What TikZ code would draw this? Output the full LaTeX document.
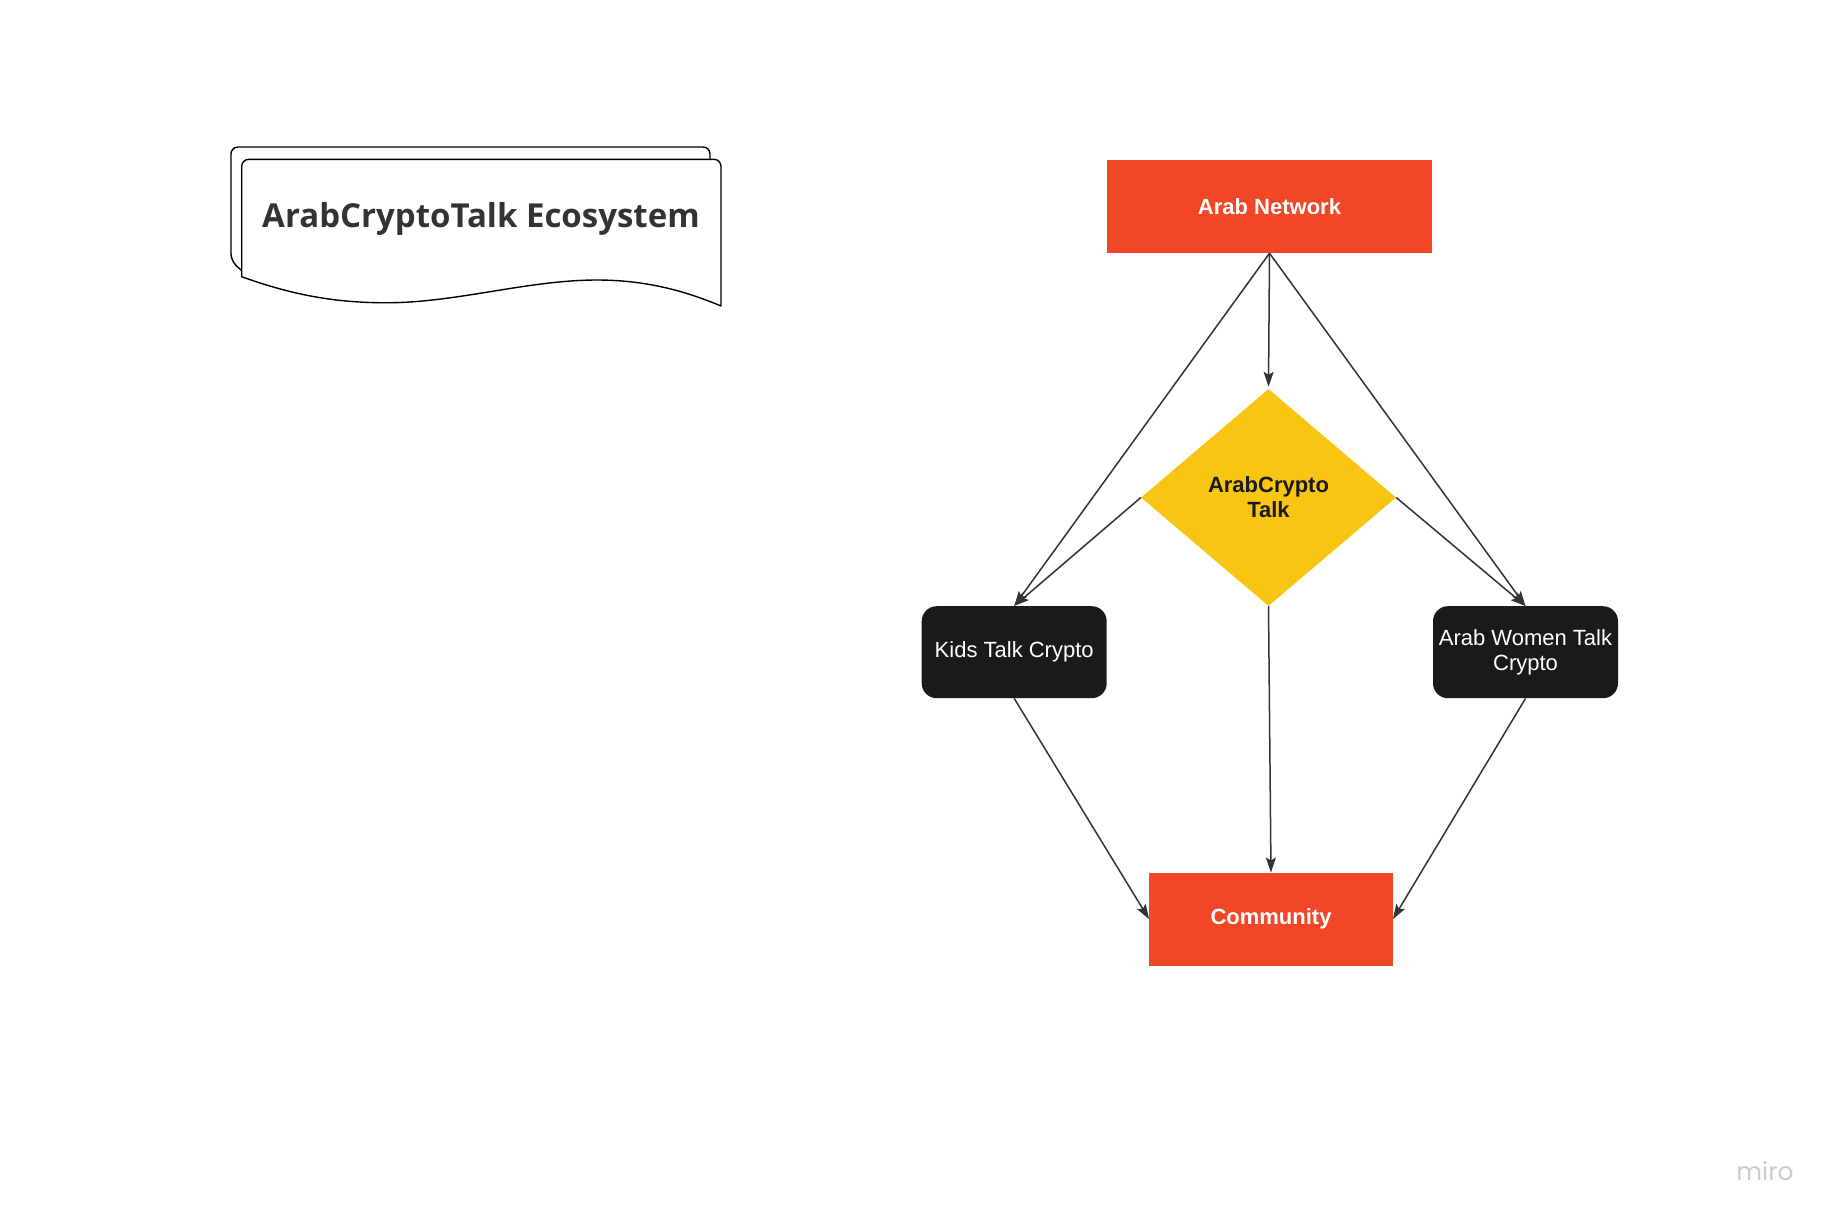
\documentclass[tikz,border=0pt]{standalone}
\usepackage{fontspec}
\setmainfont{Liberation Sans}
\newfontfamily\opensans{Open Sans}
\newfontfamily\poppins{Poppins}
\usetikzlibrary{shapes.geometric,arrows.meta}
\definecolor{mred}{HTML}{F24726}
\definecolor{myellow}{HTML}{F8C612}
\definecolor{mblack}{HTML}{1A1A1A}
\definecolor{edgec}{HTML}{333333}
\definecolor{titlec}{HTML}{333333}
\definecolor{wm}{HTML}{C9CAD6}
\begin{document}
\begin{tikzpicture}[x=1pt,y=-1pt,
  redbox/.style={rectangle, fill=mred, text=white, font=\fontsize{22}{25}\selectfont\bfseries, inner sep=0pt, align=center},
  blackbox/.style={rectangle, rounded corners=15pt, fill=mblack, text=white, font=\fontsize{22}{24.5}\selectfont, inner sep=0pt, align=center, minimum width=185pt, minimum height=92pt},
  decision/.style={diamond, fill=myellow, text=mblack, font=\fontsize{22}{25}\selectfont\bfseries, inner sep=0pt, align=center, minimum width=255pt, minimum height=217pt},
  flow/.style={draw=edgec, line width=1.5pt, -{Stealth[length=15pt,width=10pt,inset=3pt]}},
  docline/.style={draw=black, line width=1.4pt, fill=white, line join=round},
]
\useasboundingbox (0,0) rectangle (1837,1224);

% title document shape (back sheet, then front sheet)
\draw[docline, rounded corners=7pt] (241.7,270.7) -- (231,260.7) -- (231,147) -- (710,147) -- (710,175);
\draw[docline] (241.7,276.7) [rounded corners=7pt] -- (241.7,159.3) -- (721,159.3) [sharp corners] -- (721,306)
  .. controls (690,293) and (650,280) .. (596.7,280)
  .. controls (530,280) and (460,301.5) .. (393,302.7)
  .. controls (340,303.5) and (295,296) .. (241.7,276.7) -- cycle;
\node[font=\opensans\bfseries\fontsize{33}{33}\selectfont, text=titlec, anchor=base, inner sep=0pt] (ttl) at (481,227.3) {ArabCryptoTalk Ecosystem};

% nodes
\node[redbox, minimum width=325pt, minimum height=93pt] (an) at (1269.5,206.5) {Arab Network};
\node[decision] (act) at (1268.5,497.5) {ArabCrypto\\Talk};
\node[blackbox] (kids) at (1014.2,652.2) {Kids Talk Crypto};
\node[blackbox] (women) at (1525.5,652.2) {Arab Women Talk\\Crypto};
\node[redbox, minimum width=243.4pt, minimum height=93pt] (comm) at (1271,919.2) {Community};

% connectors
\draw[flow] (an.south) -- (kids.north);
\draw[flow, shorten >=2pt] (an.south) -- (act.north);
\draw[flow] (an.south) -- (women.north);
\draw[flow] (act.west) -- (kids.north);
\draw[flow] (act.east) -- (women.north);
\draw[flow] (act.south) -- (comm.north);
\draw[flow] (kids.south) -- (comm.west);
\draw[flow] (women.south) -- (comm.east);

% watermark
\node[font=\poppins\fontsize{25}{25}\selectfont, text=wm, anchor=base, inner sep=0pt] (wmk) at (1765,1180.7) {miro};
\end{tikzpicture}
\end{document}
